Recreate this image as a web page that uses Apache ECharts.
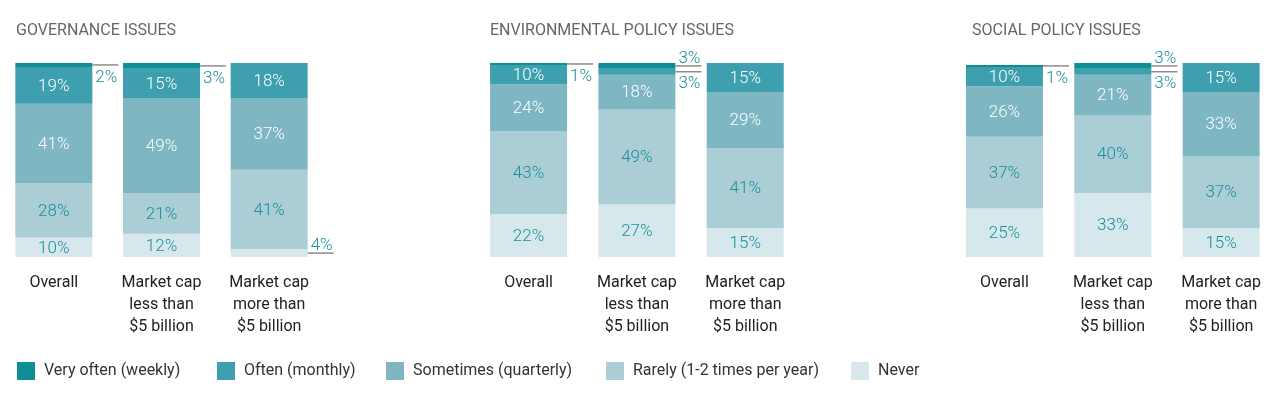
<!DOCTYPE html>
<html><head><meta charset="utf-8">
<script src="https://cdn.jsdelivr.net/npm/echarts@6/dist/echarts.min.js"></script>
<style>html,body{margin:0;padding:0;background:#fff}#c{width:1286px;height:393px}</style>
</head><body><div id="c"></div>
<script>
const categories = ['Overall', 'Market cap\nless than\n$5 billion', 'Market cap\nmore than\n$5 billion'];
const seriesNames = ['Very often (weekly)', 'Often (monthly)', 'Sometimes (quarterly)', 'Rarely (1-2 times per year)', 'Never'];
const panelTitles = ['GOVERNANCE ISSUES', 'ENVIRONMENTAL POLICY ISSUES', 'SOCIAL POLICY ISSUES'];

const govVeryOften = [2, 3, 0];
const govOften = [19, 15, 18];
const govSometimes = [41, 49, 37];
const govRarely = [28, 21, 41];
const govNever = [10, 12, 4];

const envVeryOften = [1, 3, 0];
const envOften = [10, 3, 15];
const envSometimes = [24, 18, 29];
const envRarely = [43, 49, 41];
const envNever = [22, 27, 15];

const socVeryOften = [1, 3, 0];
const socOften = [10, 3, 15];
const socSometimes = [26, 21, 33];
const socRarely = [37, 40, 37];
const socNever = [25, 33, 15];

// panels: series listed top (very often) to bottom (never)
const panels = [
  [govVeryOften, govOften, govSometimes, govRarely, govNever],
  [envVeryOften, envOften, envSometimes, envRarely, envNever],
  [socVeryOften, socOften, socSometimes, socRarely, socNever]
];

const colors = ['#0f8e96', '#3e9fae', '#7eb6c2', '#abcdd6', '#d7e8ed'];
const labelColors = ['#ffffff', '#ffffff', '#ffffff', '#1b8f9a', '#1b8f9a'];
const FONT = 'Roboto';
const BARW = 77;

const gridLefts = [-2, 474.4, 950.3];
const titleLefts = [11, 485, 967];

const grids = [], xAxes = [], yAxes = [], series = [], titles = [];
panels.forEach((panel, pi) => {
  grids.push({ left: gridLefts[pi], top: 63, width: 325, height: 194 });
  xAxes.push({
    type: 'category', gridIndex: pi, data: categories,
    axisLine: { show: false }, axisTick: { show: false },
    axisLabel: { color: '#222', fontSize: 16, fontFamily: FONT, lineHeight: 22, margin: 15 }
  });
  yAxes.push({ type: 'value', gridIndex: pi, min: 0, max: 100, show: false, splitLine: { show: false } });
  titles.push({
    text: panelTitles[pi], left: titleLefts[pi], top: 18,
    textStyle: { color: '#666', fontSize: 16, fontWeight: 'normal', fontFamily: FONT }
  });
  // stacked bars bottom-up: never first
  for (let si = 4; si >= 0; si--) {
    series.push({
      name: seriesNames[si], type: 'bar', stack: 'p' + pi,
      xAxisIndex: pi, yAxisIndex: pi, barWidth: BARW,
      data: panel[si],
      itemStyle: { color: colors[si] },
      label: {
        show: si > 0, position: 'inside', color: labelColors[si],
        fontSize: 17, fontFamily: FONT, fontWeight: 300, offset: [0, 1],
        formatter: p => (p.value >= 5 ? p.value + '%' : '')
      }
    });
  }
  // callouts for small segments
  const calloutData = [];
  categories.forEach((c, ci) => {
    let cum = 0;
    const mids = [];
    for (let si = 4; si >= 0; si--) {
      mids[si] = cum + panel[si][ci] / 2;
      cum += panel[si][ci];
    }
    for (let si = 0; si <= 4; si++) {
      const v = panel[si][ci];
      if (v > 0 && v < 5) {
        let above;
        if (si === 4) above = 1;
        else if (si === 0 && panel[1][ci] < 5) above = 1;
        else above = 0;
        calloutData.push([ci, mids[si], above, v]);
      }
    }
  });
  series.push({
    type: 'custom', xAxisIndex: pi, yAxisIndex: pi, clip: false, z: 5,
    silent: true,
    data: calloutData,
    renderItem: (params, api) => {
      const p = api.coord([api.value(0), api.value(1)]);
      const x0 = p[0] + BARW / 2;
      const above = api.value(2) === 1;
      return {
        type: 'group',
        children: [
          { type: 'line', shape: { x1: x0, y1: p[1], x2: x0 + 26, y2: p[1] },
            style: { stroke: '#8c8c8c', lineWidth: 1.5 } },
          { type: 'text', x: x0 + 3, y: above ? p[1] + 1 : p[1] + 4,
            style: { text: api.value(3) + '%', fill: '#1b8f9a', fontSize: 17, fontFamily: FONT, fontWeight: 300,
              align: 'left', verticalAlign: above ? 'bottom' : 'top' } }
        ]
      };
    }
  });
});

const legendLefts = [12, 212, 381, 601, 846];
const legends = seriesNames.map((n, i) => ({
  data: [n], left: legendLefts[i], top: 357, itemWidth: 18, itemHeight: 18, icon: 'rect',
  itemGap: 0, selectedMode: false,
  textStyle: { color: '#333', fontSize: 16, fontFamily: FONT, padding: [0, 0, 0, 4] }
}));

const chart = echarts.init(document.getElementById('c'));
chart.setOption({
  animation: false,
  title: titles,
  legend: legends,
  grid: grids,
  xAxis: xAxes,
  yAxis: yAxes,
  series: series
});
</script></body></html>
